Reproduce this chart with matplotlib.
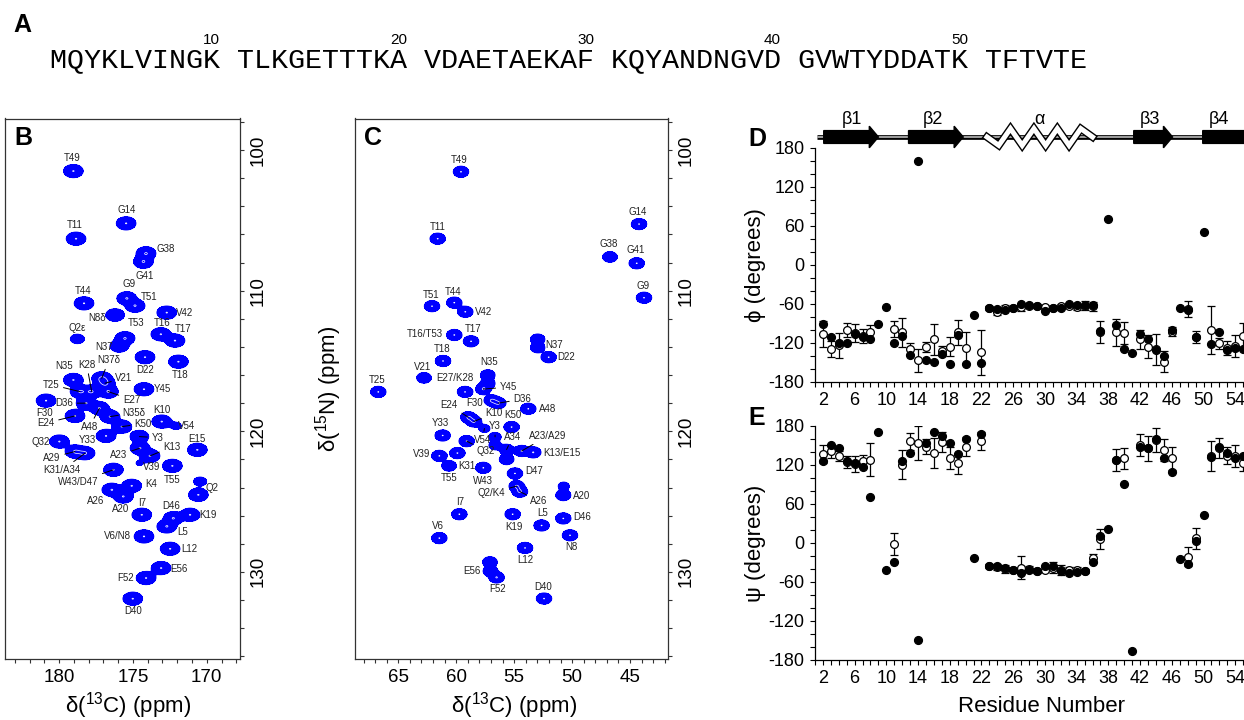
import numpy as np
import matplotlib
matplotlib.use("Agg")
import matplotlib.pyplot as plt
import matplotlib.patheffects as pe
from matplotlib.ticker import MultipleLocator, FixedLocator

plt.rcParams['font.family'] = ['Liberation Sans', 'DejaVu Sans']
plt.rcParams['mathtext.fontset'] = 'custom'
plt.rcParams['mathtext.rm'] = 'Liberation Sans'
plt.rcParams['mathtext.it'] = 'Liberation Sans:italic'
plt.rcParams['axes.unicode_minus'] = False

# ---------------- data ----------------
sequence = "MQYKLVINGK TLKGETTTKA VDAETAEKAF KQYANDNGVD GVWTYDDATK TFTVTE"
seq_marks = [10, 20, 30, 40, 50]

# panel B: 13C' (x) / 15N (y) peaks
b_names = ['T49', 'G14', 'T11', 'G38', 'G41', 'T44', 'G9', 'T51', 'V42', 'N8δ',
           'Q2ε', 'T53', 'N37', 'T16', 'T17', 'D22', 'T18', 'Y45', 'N35', 'K28',
           'N37δ', 'V21', 'T25', 'E27', 'F30', 'D36', 'A48', 'N35δ', 'E24', 'K50',
           'K10', 'V54', 'Q32', 'Y33', 'Y3', 'E15', 'A23', 'K13', 'V39', 'A29',
           'K31/A34', 'T55', 'W43/D47', '', 'Q2', 'K4', 'A26', 'A20', 'I7', 'D46',
           'K19', 'L5', 'V6/N8', 'L12', 'E56', 'F52', 'D40']
b_c13 = [179.03, 175.46, 178.85, 174.11, 174.29, 178.31, 175.42, 174.85, 172.71, 176.21,
         178.76, 175.53, 175.92, 173.11, 172.15, 174.18, 171.92, 174.25, 179.03, 177.79,
         177.11, 176.89, 178.58, 176.66, 180.88, 178.17, 177.27, 176.55, 178.92, 175.75,
         173.05, 172.08, 179.98, 176.82, 174.56, 170.64, 174.52, 173.84, 174.56, 178.92,
         178.24, 172.33, 176.32, 170.45, 170.57, 175.08, 176.43, 175.65, 174.40, 172.26,
         171.13, 172.71, 174.25, 172.48, 173.09, 174.11, 175.01]
b_n15 = [101.49, 105.21, 106.30, 107.34, 107.94, 110.90, 110.54, 111.07, 111.56, 111.73,
         113.43, 113.38, 113.93, 113.10, 113.55, 114.73, 115.05, 117.01, 116.35, 117.18,
         116.23, 116.58, 117.18, 117.18, 117.82, 118.00, 118.36, 118.96, 118.91, 119.67,
         119.31, 119.62, 120.73, 120.33, 120.38, 121.32, 121.20, 121.75, 122.27, 121.44,
         121.56, 122.46, 122.74, 123.57, 124.52, 123.88, 124.16, 124.64, 125.94, 126.18,
         125.94, 126.77, 127.48, 128.36, 129.73, 130.44, 131.91]
b_amp = [1, 1, 1, 1, 1, 1, 1, 1, 1, 0.8,
         0.35, 1, 0.8, 1, 1, 1, 1, 1, 1, 1,
         1, 1, 1, 1, 1, 1, 1, 1, 1, 1,
         1, 0.22, 1, 1, 0.8, 1, 1, 1, 0.15, 1,
         1, 1, 1, 0.3, 1, 1, 1, 1, 1, 1,
         1, 1, 1, 1, 1, 1, 1]

# panel C: 13CA (x) / 15N (y) peaks
c_names = ['T49', 'T11', 'T51', 'T44', 'V42', 'T16/T53', 'T17', 'N37',
           '', 'D22', 'T18', 'V21', 'T25', 'N35', '', 'E27/K28',
           'Y45', 'F30', 'D36', 'A48', 'E24', 'K10', 'K50', 'V54',
           'Y3', '', 'Y33', 'Q32', 'A34', '', 'A23/A29', 'K13/E15',
           'V39', 'K31', 'T55', 'W43', 'D47', 'Q2/K4', 'A26', 'A20',
           '', 'I7', 'K19', 'D46', 'L5', 'V6', 'N8', 'L12',
           'E56', '', 'F52', 'D40', 'G14', 'G38', 'G41', 'G9']
c_c13 = [59.59, 61.60, 62.09, 60.17, 59.22, 60.17, 58.72, 52.97,
         52.97, 52.02, 61.14, 62.78, 66.73, 57.28, 57.28, 59.24,
         57.66, 56.94, 56.37, 53.78, 58.96, 58.47, 55.22, 57.57,
         56.65, 56.65, 61.17, 59.10, 55.65, 55.65, 54.35, 53.35,
         61.46, 59.90, 60.62, 57.66, 54.93, 54.78, 54.50, 50.76,
         50.72, 59.73, 55.13, 50.76, 52.63, 61.46, 50.18, 54.06,
         57.09, 57.05, 56.51, 52.42, 44.22, 46.73, 44.42, 43.79]
c_n15 = [101.54, 106.30, 111.10, 110.85, 111.50, 113.15, 113.60, 113.45,
         114.05, 114.73, 115.00, 116.20, 117.20, 116.00, 116.60, 117.20,
         117.00, 117.80, 118.00, 118.40, 119.00, 119.30, 119.70, 119.80,
         120.40, 121.00, 120.30, 120.70, 121.30, 122.00, 121.40, 121.50,
         121.75, 121.55, 122.46, 122.60, 123.00, 123.90, 124.30, 124.55,
         123.90, 125.90, 125.90, 126.20, 126.70, 127.60, 127.40, 128.30,
         129.30, 129.95, 130.40, 131.90, 105.26, 107.60, 108.05, 110.50]
c_amp = [1, 1, 1, 1, 1, 1, 1, 0.75,
         0.75, 1, 1, 0.8, 1, 0.8, 0.8, 1,
         1, 1, 1, 1, 1, 1, 1, 0.35,
         0.45, 0.45, 1, 1, 0.8, 0.8, 1, 1,
         1, 1, 0.8, 1, 1, 1, 1, 0.9,
         0.35, 1, 1, 1, 1, 1, 1, 1,
         0.8, 0.8, 1, 1, 1, 0.8, 1, 1]

# panels D and E: backbone torsion angles per residue
residues = np.arange(2, 56)
nan = np.nan
phi_filled = [-92, -112, -121, -121, -107, -111, -114, -91, -65, -120,
              -109, -139, 160, -147, -149, -138, -153, -108, -153, -77,
              -152, -67, -68, -69, -66, -60, -62, -64, -71, -66,
              -67, -60, -62, -62, -62, -102, 70, -93, -130, -136,
              -106, -115, -131, -140, -101, -66, -69, -112, 50, -122,
              -104, -131, -128, -129]
phi_open = [-107, -130, -124, -101, -105, -110, -104, nan, nan, -99,
            -104, -130, -147, -127, -115, -133, -126, -104, -128, nan,
            -135, -67, -73, -66, -66, -65, -63, -64, -65, -66,
            -64, -63, -65, -63, -64, -104, nan, -104, -105, nan,
            -115, -126, -130, -149, -103, nan, -68, -111, nan, -100,
            -121, -128, -125, -110]
phi_err = [20, 12, 19, 11, 14, 11, 11, 0, 0, 12,
           22, 9, 18, 8, 24, 8, 15, 19, 24, 0,
           34, 3, 5, 4, 3, 6, 3, 3, 3, 3,
           3, 4, 5, 7, 7, 17, 0, 21, 17, 0,
           15, 18, 24, 16, 7, 0, 12, 9, 0, 37,
           8, 11, 17, 20]
psi_filled = [126, 151, 145, 126, 122, 116, 71, 171, -41, -29,
              126, 138, -150, 153, 171, 164, 154, 137, 160, -24,
              168, -35, -35, -39, -41, -46, -42, -44, -35, -35,
              -44, -47, -45, -44, -29, 11, 21, 127, 91, -166,
              147, 145, 160, 131, 109, -25, -33, 3, 43, 132,
              147, 138, 130, 133]
psi_open = [137, 141, 133, 124, 121, 125, 128, nan, nan, -2,
            120, 156, 153, 148, 138, 155, 130, 122, 148, nan,
            156, -35, -37, -40, -41, -38, -40, -43, -41, -38,
            -42, -41, -41, -43, -24, 6, nan, 127, 130, nan,
            150, 145, 158, 143, 130, nan, -21, 7, nan, 134,
            146, 134, 133, 123]
psi_err = [14, 10, 8, 9, 12, 10, 25, 0, 0, 17,
           22, 13, 26, 11, 23, 15, 17, 16, 15, 0,
           14, 3, 5, 6, 3, 18, 5, 3, 4, 8,
           8, 4, 4, 3, 7, 15, 0, 17, 16, 0,
           17, 19, 19, 17, 18, 0, 14, 16, 0, 23,
           15, 13, 17, 12]

# secondary structure (residue ranges)
strands = [(2.1, 9.0), (12.8, 19.7), (41.2, 46.1), (49.9, 56.5)]
strand_names = ['β1', 'β2', 'β3', 'β4']
helix = (22.7, 36.0)

# ---------------- layout ----------------
# label offsets in pixels (dx, dy downwards, leader line)
b_offsets = {
    'T49': (-1, -13, 0), 'G14': (1, -13, 0), 'T11': (-1, -14, 0), 'G38': (20, -4, 0),
    'G41': (1, 14, 0), 'T44': (-1, -12, 0), 'G9': (2, -14, 0), 'T51': (14, -9, 0),
    'V42': (18, 0, 0), 'N8δ': (-18, 3, 0), 'Q2ε': (0, -11, 0), 'T53': (11, -15, 0),
    'N37': (-15, 1, 0), 'T16': (1, -11, 0), 'T17': (8, -12, 0), 'D22': (0, 13, 0),
    'T18': (2, 13, 0), 'Y45': (18, 0, 0), 'N35': (-9, -14, 0), 'K28': (-5, -27, 1),
    'N37δ': (7, -18, 1), 'V21': (19, -5, 1), 'T25': (-29, -7, 1), 'E27': (23, 8, 1),
    'F30': (-1, 12, 0), 'D36': (-22, 0, 1), 'A48': (-10, 19, 1), 'N35δ': (24, -4, 1),
    'E24': (-29, 7, 1), 'K50': (21, -3, 1), 'K10': (0, -12, 0), 'V54': (11, 0, 0),
    'Q32': (-19, 0, 0), 'Y33': (-19, 4, 0), 'Y3': (18, 1, 1), 'E15': (0, -11, 0),
    'A23': (-21, 7, 1), 'K13': (22, -9, 1), 'V39': (12, 4, 0), 'A29': (-23, 6, 1),
    'K31/A34': (-23, 17, 1), 'T55': (0, 14, 0), 'W43/D47': (-35, 12, 1), 'K4': (19, -2, 0),
    'Q2': (14, -7, 0), 'A26': (-16, 11, 0), 'A20': (-3, 13, 0), 'I7': (0, -12, 0),
    'D46': (-2, -12, 0), 'K19': (18, 0, 0), 'L5': (16, 6, 0), 'V6/N8': (-27, 0, 0),
    'L12': (19, 0, 0), 'E56': (18, 1, 0), 'F52': (-20, 0, 0), 'D40': (0, 12, 0),
}
c_offsets = {
    'T49': (-2, -12, 0), 'T11': (0, -12, 0), 'T51': (-1, -11, 0), 'T44': (-1, -11, 0),
    'V42': (18, 0, 0), 'T16/T53': (-29, -1, 0), 'T17': (2, -12, 0), 'N37': (16, 6, 0),
    'D22': (17, 0, 0), 'T18': (-1, -12, 0), 'V21': (-1, -11, 0), 'T25': (-1, -12, 0),
    'N35': (1, -13, 0), 'E27/K28': (-10, -14, 0), 'Y45': (25, -2, 1), 'F30': (-17, 3, 0),
    'D36': (24, -4, 1), 'A48': (19, 0, 0), 'E24': (-19, -12, 1), 'K10': (20, -8, 1),
    'K50': (1, -12, 0), 'V54': (-2, 12, 1), 'Y3': (0, -11, 1), 'Y33': (-2, -12, 0),
    'Q32': (19, 10, 1), 'A34': (6, -13, 1), 'A23/A29': (26, -15, 1), 'K13/E15': (29, 1, 0),
    'V39': (-18, -2, 0), 'K31': (9, 13, 0), 'T55': (0, 12, 0), 'W43': (0, 13, 0),
    'D47': (19, -2, 0), 'Q2/K4': (-25, 7, 1), 'A26': (19, 9, 1), 'A20': (18, 1, 0),
    'I7': (1, -12, 0), 'K19': (1, 13, 0), 'D46': (19, -1, 0), 'L5': (1, -12, 0),
    'V6': (-1, -12, 0), 'N8': (1, 12, 0), 'L12': (0, 12, 0), 'E56': (-18, 9, 0),
    'F52': (1, 12, 0), 'D40': (-1, -12, 0), 'G14': (-1, -12, 0), 'G38': (-1, -13, 0),
    'G41': (-1, -13, 0), 'G9': (-1, -12, 0),
}
ss_label_x = [5.6, 15.9, 43.2, 52.0]

W, H = 1244, 720
fig = plt.figure(figsize=(12.44, 7.2), dpi=100)


def box(l, t, r, b):
    return [l / W, 1 - b / H, (r - l) / W, (b - t) / H]


def ftext(x, y, s, **kw):
    fig.text(x / W, 1 - y / H, s, **kw)


def spectrum(ax, cs, ns, amps, sx, sy, xlim, ylim):
    gx = np.linspace(min(xlim), max(xlim), 600)
    gy = np.linspace(min(ylim), max(ylim), 1000)
    X, Y = np.meshgrid(gx, gy)
    Z = np.zeros_like(X)
    for c, n, a in zip(cs, ns, amps):
        Z += a * np.exp(-0.5 * (((X - c) / sx) ** 2 + ((Y - n) / sy) ** 2))
    ax.contourf(X, Y, Z, levels=[0.12, Z.max() + 1], colors=['#0000ff'])
    ax.contour(X, Y, Z, levels=[0.12], colors='#0000ff', linewidths=0.8)
    ax.contour(X, Y, Z, levels=[0.985], colors='white', linewidths=0.5)
    ax.set_xlim(xlim)
    ax.set_ylim(ylim)


def label_peaks(ax, names, cs, ns, offsets):
    for name, c, n in zip(names, cs, ns):
        if name not in offsets:
            continue
        dx, dy, line = offsets[name]
        ap = dict(arrowstyle='-', color='k', lw=0.7, shrinkA=1, shrinkB=0) if line else None
        ax.annotate(name, (c, n), xytext=(dx, -dy), textcoords='offset pixels',
                    ha='center', va='center', fontsize=7, color='#222222',
                    arrowprops=ap, annotation_clip=False)


def style_nmr(ax):
    ax.xaxis.set_major_locator(MultipleLocator(5))
    ax.xaxis.set_minor_locator(MultipleLocator(1))
    ax.yaxis.set_major_locator(MultipleLocator(10))
    ax.yaxis.set_minor_locator(MultipleLocator(2))
    ax.tick_params(which='both', direction='out', length=3.2, width=0.8,
                   labelsize=13.5, color='#333333')
    ax.tick_params(axis='y', which='both', left=False, right=True,
                   labelleft=False, labelright=True, labelrotation=90, pad=4)
    ax.tick_params(axis='x', pad=4)
    for t in ax.yaxis.get_major_ticks():
        t.label2.set_va('center')
    for s in ax.spines.values():
        s.set_linewidth(0.9)
        s.set_color('#333333')


# ---------------- header ----------------
ftext(22, 25, 'A', fontsize=18, fontweight='bold', ha='center', va='center')
seq_size = 20.4
char_px = seq_size * 100 / 72 * 0.6
ftext(50, 60, sequence, family='Liberation Mono', fontsize=seq_size, ha='left', va='center')
for num in seq_marks:
    idx = (num - 1) + (num - 1) // 10
    ftext(50 + (idx + 0.5) * char_px, 40, str(num), fontsize=11, ha='center', va='center')

# ---------------- panel B ----------------
axB = fig.add_axes(box(5, 118.5, 240, 659))
spectrum(axB, b_c13, b_n15, b_amp, 0.32, 0.225, (183.66, 167.75), (136.2, 97.75))
label_peaks(axB, b_names, b_c13, b_n15, b_offsets)
style_nmr(axB)
ftext(23, 138, 'B', fontsize=18, fontweight='bold', ha='center', va='center')
ftext(128, 706, 'δ($^{13}$C) (ppm)', fontsize=16, ha='center', va='center')

# ---------------- panel C ----------------
axC = fig.add_axes(box(355, 118.5, 668, 659))
spectrum(axC, c_c13, c_n15, c_amp, 0.32, 0.19, (68.74, 41.72), (136.2, 97.75))
label_peaks(axC, c_names, c_c13, c_n15, c_offsets)
style_nmr(axC)
ftext(373, 138, 'C', fontsize=18, fontweight='bold', ha='center', va='center')
ftext(514, 706, 'δ($^{13}$C) (ppm)', fontsize=16, ha='center', va='center')
ftext(329, 389, 'δ($^{15}$N) (ppm)', fontsize=16, ha='center', va='center', rotation=90)


# ---------------- panels D, E ----------------
def angle_panel(ax, filled, opened, err):
    filled = np.array(filled, float)
    opened = np.array(opened, float)
    err = np.array(err, float)
    m = (err > 0) & ~np.isnan(opened)
    ax.errorbar(residues[m], opened[m], yerr=err[m], fmt='none', ecolor='k',
                elinewidth=0.9, capsize=2.6, capthick=0.9, zorder=2)
    ax.plot(residues, opened, 'o', mfc='white', mec='k', mew=0.9, ms=5.6, zorder=2.5)
    ax.plot(residues, filled, 'o', color='k', ms=5.6, zorder=3)
    ax.set_xlim(1, 57)
    ax.set_ylim(-180, 180)
    ax.spines['top'].set_visible(False)
    ax.spines['right'].set_visible(False)
    ax.xaxis.set_major_locator(FixedLocator(range(2, 56, 4)))
    ax.xaxis.set_minor_locator(MultipleLocator(1))
    ax.yaxis.set_major_locator(MultipleLocator(60))
    ax.yaxis.set_minor_locator(MultipleLocator(20))
    ax.tick_params(which='both', direction='out', length=3.5, width=0.8, labelsize=13, pad=4)
    for s in ('left', 'bottom'):
        ax.spines[s].set_linewidth(0.9)


axD = fig.add_axes(box(815, 147.7, 1259, 381.7))
angle_panel(axD, phi_filled, phi_open, phi_err)
axE = fig.add_axes(box(815, 425.7, 1259, 660))
angle_panel(axE, psi_filled, psi_open, psi_err)

ftext(757, 139, 'D', fontsize=18, fontweight='bold', ha='center', va='center')
ftext(757, 418, 'E', fontsize=18, fontweight='bold', ha='center', va='center')
ftext(756, 265, 'ϕ (degrees)', fontsize=16, ha='center', va='center', rotation=90)
ftext(756, 543, 'ψ (degrees)', fontsize=16, ha='center', va='center', rotation=90)
ftext(1042, 707, 'Residue Number', fontsize=16, ha='center', va='center')

# secondary structure cartoon above D
axS = fig.add_axes(box(815, 117, 1259, 157))
axS.set_xlim(1, 57)
axS.set_ylim(0, 1)
axS.axis('off')
axS.plot([1.2, 57], [0.5, 0.5], color='k', lw=3.4, solid_capstyle='butt', zorder=1)
axS.plot([1.2, 57], [0.5, 0.5], color='#a0a0a0', lw=1.4, solid_capstyle='butt', zorder=1.1)
hb, hh, hl = 0.16, 0.27, 1.15
for (s, e), name, lx in zip(strands, strand_names, ss_label_x):
    px = [s, e - hl, e - hl, e, e - hl, e - hl, s]
    py = [0.5 - hb, 0.5 - hb, 0.5 - hh, 0.5, 0.5 + hh, 0.5 + hb, 0.5 + hb]
    axS.fill(px, py, color='k', zorder=3)
    axS.text(lx, 0.93, name, ha='center', va='center', fontsize=13)
hx = np.linspace(helix[0], helix[1], 10)
hy = np.array([0.5, 0.29, 0.71, 0.29, 0.71, 0.29, 0.71, 0.29, 0.71, 0.5])
axS.plot(hx, hy, color='white', lw=3.6, solid_joinstyle='miter', zorder=4,
         path_effects=[pe.Stroke(linewidth=5.6, foreground='k'), pe.Normal()])
axS.text((helix[0] + helix[1]) / 2, 0.93, 'α', ha='center', va='center', fontsize=13)

fig.savefig('out.png', dpi=100)
